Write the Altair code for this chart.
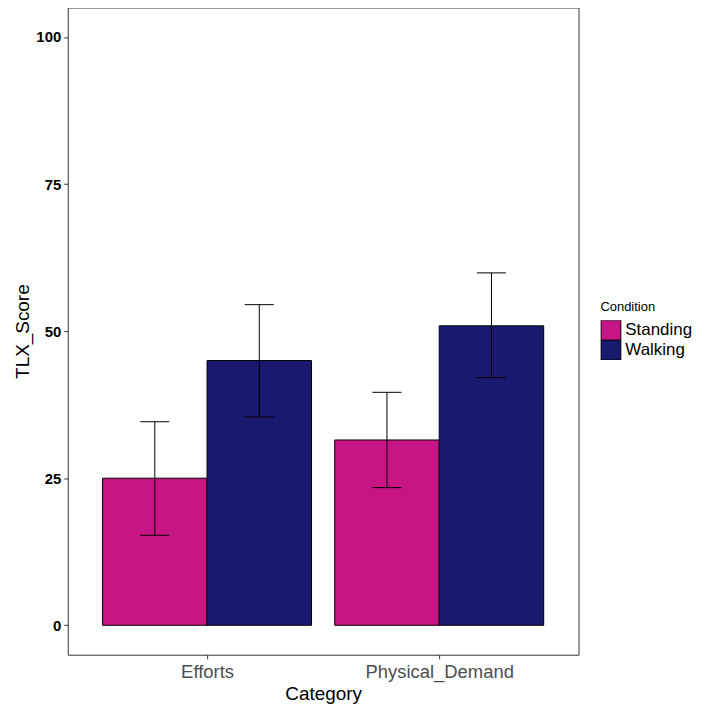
import json
import altair as alt
import pandas as pd

categories = ["Efforts", "Physical_Demand"]
conditions = ["Standing", "Walking"]
standing_mean = [25.0, 31.5]
walking_mean = [45.0, 50.9]
standing_lo = [15.3, 23.4]
standing_hi = [34.6, 39.6]
walking_lo = [35.4, 42.1]
walking_hi = [54.5, 59.9]
colors = ["#C71585", "#191970"]
y_ticks = [0, 25, 50, 75, 100]

rows = []
for i, cat in enumerate(categories):
    rows.append(dict(Category=cat, idx=i + 1, Condition=conditions[0], dodge=-1,
                     TLX_Score=standing_mean[i], lo=standing_lo[i], hi=standing_hi[i]))
    rows.append(dict(Category=cat, idx=i + 1, Condition=conditions[1], dodge=1,
                     TLX_Score=walking_mean[i], lo=walking_lo[i], hi=walking_hi[i]))
df = pd.DataFrame(rows)

FONT = "Liberation Sans"

base = alt.Chart(df).transform_calculate(
    center="datum.idx + datum.dodge * 0.225",
    x0="datum.idx + datum.dodge * 0.225 - 0.225",
    x1="datum.idx + datum.dodge * 0.225 + 0.225",
    c0="datum.idx + datum.dodge * 0.225 - 0.0625",
    c1="datum.idx + datum.dodge * 0.225 + 0.0625",
    zero="0",
)

xscale = alt.Scale(domain=[0.4, 2.6], nice=False, zero=False)
yscale = alt.Scale(domain=[-5, 105], nice=False, zero=False)

label_expr = json.dumps(categories) + "[datum.value - 1]"
xaxis = alt.Axis(values=[1, 2], labelExpr=label_expr, title="Category", grid=False,
                 domain=False, tickSize=4, tickColor="#333333", labelPadding=4,
                 labelFontSize=18.5, labelColor="#4d4d4d", labelFont=FONT,
                 titleFontSize=19, titleFont=FONT, titleFontWeight="normal",
                 titleColor="black", titlePadding=3)
yaxis = alt.Axis(values=y_ticks, title="TLX_Score", grid=False, domain=False,
                 tickSize=4, tickColor="#333333", labelPadding=3,
                 labelFontSize=15, labelFontWeight="bold", labelColor="black",
                 labelFont=FONT, titleFontSize=19, titleFont=FONT,
                 titleFontWeight="normal", titleColor="black", titlePadding=3)

bars = base.mark_rect(stroke="black", strokeWidth=1).encode(
    x=alt.X("x0:Q", scale=xscale, axis=xaxis),
    x2="x1:Q",
    y=alt.Y("zero:Q", scale=yscale, axis=yaxis),
    y2="TLX_Score:Q",
    color=alt.Color("Condition:N",
                    scale=alt.Scale(domain=conditions, range=colors),
                    legend=alt.Legend(title="Condition", orient="none",
                                      legendX=535, legendY=295,
                                      symbolType="square", symbolSize=400,
                                      symbolStrokeColor="black",
                                      symbolStrokeWidth=1, rowPadding=0,
                                      clipHeight=20,
                                      labelFontSize=17, labelFont=FONT,
                                      labelColor="black", titleFontSize=13,
                                      titleFont=FONT, titleFontWeight="normal",
                                      titleColor="black", titlePadding=6,
                                      labelOffset=4)),
)

stem = base.mark_rule(color="black", strokeWidth=1).encode(
    x=alt.X("center:Q", scale=xscale, axis=xaxis),
    y=alt.Y("lo:Q", scale=yscale, axis=yaxis),
    y2="hi:Q",
)
cap_lo = base.mark_rule(color="black", strokeWidth=1).encode(
    x=alt.X("c0:Q", scale=xscale, axis=xaxis),
    x2="c1:Q",
    y=alt.Y("lo:Q", scale=yscale, axis=yaxis),
)
cap_hi = base.mark_rule(color="black", strokeWidth=1).encode(
    x=alt.X("c0:Q", scale=xscale, axis=xaxis),
    x2="c1:Q",
    y=alt.Y("hi:Q", scale=yscale, axis=yaxis),
)

chart = alt.layer(bars, stem, cap_lo, cap_hi).properties(
    width=513, height=650,
    autosize=alt.AutoSizeParams(type="none"),
    padding={"left": 60, "top": -2, "right": 120, "bottom": 56},
).configure(background="white").configure_view(stroke="#333333", strokeWidth=1)

chart.save("out.html", embed_options={"renderer": "svg", "actions": False})
